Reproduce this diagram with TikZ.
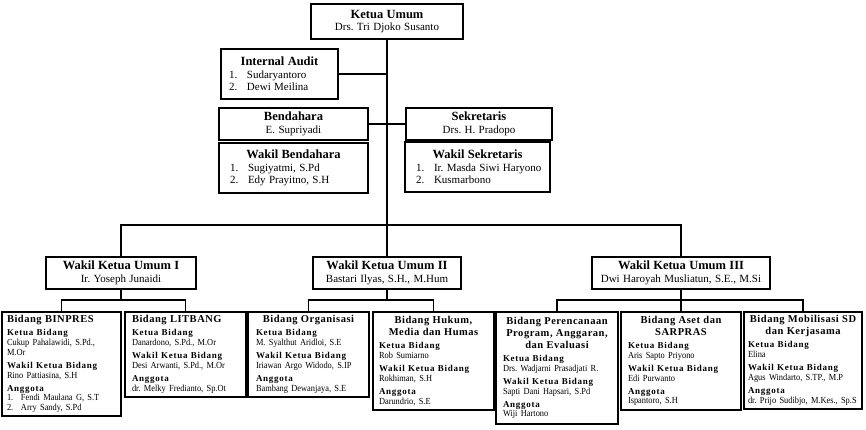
\documentclass[tikz,border=0pt]{standalone}
\usepackage{fontspec}
\setmainfont{Liberation Serif}
\newfontfamily\namefont[FakeStretch=0.9]{Liberation Serif}
\newfontfamily\labfont[LetterSpace=8]{Liberation Serif}
\newfontfamily\titfont[LetterSpace=5]{Liberation Serif}
\newcommand\TopT{\fontsize{12.5}{13}\selectfont\bfseries}
\newcommand\TopN{\fontsize{11}{12.5}\selectfont}
\newcommand\BT{\titfont\bfseries\fontsize{10.5}{12}\selectfont}
\newcommand\BL{\labfont\bfseries\fontsize{9}{13}\selectfont}
\newcommand\BN{\namefont\fontsize{9.3}{9.8}\selectfont}
\newcommand\TT[1]{{\TopT\centering\mbox{#1}\par}}
\newcommand\TN[1]{{\TopN\centering\mbox{#1}\par}}
\newcommand\TI[2]{{\TopN\mbox{\makebox[18pt][l]{#1}#2}\par}}
\newcommand\LT[1]{{\BT\mbox{#1}\par}}
\newcommand\CT[1]{{\BT\centering\mbox{#1}\par}}
\newcommand\LB[1]{{\BL\mbox{#1}\par}}
\newcommand\NM[1]{{\BN\mbox{#1}\par}}
\newcommand\NI[2]{{\BN\mbox{\makebox[14pt][l]{#1}#2}\par}}
\tikzset{
  box/.style={draw=black, line width=1.1pt, inner ysep=0pt, inner xsep=7pt, align=left,
    execute at begin node={\setlength{\parindent}{0pt}\frenchspacing}},
  conn/.style={draw=black, line width=1.1pt}
}
\begin{document}
\frenchspacing
\begin{tikzpicture}[x=1pt,y=-1pt]
\fill[white] (0,0) rectangle (866,429);
\useasboundingbox (0,0) rectangle (866,429);

% top section
\node[box, inner xsep=8pt, text width=136pt, minimum height=35pt] (ketua) at (387,21.5)
  {\TT{Ketua Umum}\TN{Drs. Tri Djoko Susanto}};
\node[box, inner xsep=8pt, text width=101pt, minimum height=50pt] (audit) at (279.5,74)
  {\TT{Internal Audit}\TI{1.}{Sudaryantoro}\TI{2.}{Dewi Meilina}};
\node[box, inner xsep=8pt, text width=133pt, minimum height=32pt] (bendahara) at (293.5,124)
  {\TT{Bendahara}\TN{E. Supriyadi}};
\node[box, inner xsep=11pt, text width=127pt, minimum height=50pt] (wbendahara) at (293.5,168)
  {\TT{Wakil Bendahara}\TI{1.}{Sugiyatmi, S.Pd}\TI{2.}{Edy Prayitno, S.H}};
\node[box, inner xsep=8pt, text width=130pt, minimum height=32pt] (sekretaris) at (479,124)
  {\TT{Sekretaris}\TN{Drs. H. Pradopo}};
\node[box, inner xsep=11pt, text width=123pt, minimum height=50pt] (wsekretaris) at (477.5,167)
  {\TT{Wakil Sekretaris}\TI{1.}{Ir. Masda Siwi Haryono}\TI{2.}{Kusmarbono}};

% wakil ketua umum
\node[box, text width=136pt, minimum height=32pt] (wku1) at (121,273)
  {\TT{Wakil Ketua Umum I}\TN{Ir. Yoseph Junaidi}};
\node[box, text width=134pt, minimum height=32pt] (wku2) at (387,273)
  {\TT{Wakil Ketua Umum II}\TN{Bastari Ilyas, S.H., M.Hum}};
\node[box, text width=164pt, minimum height=32pt] (wku3) at (681,273)
  {\TT{Wakil Ketua Umum III}\TN{Dwi Haroyah Musliatun, S.E., M.Si}};

% bidang boxes
\node[box, inner xsep=5pt, text width=109pt, minimum height=104pt] (binpres) at (61.5,364)
  {\LT{Bidang BINPRES}\LB{Ketua Bidang}\NM{Cukup Pahalawidi, S.Pd.,}\NM{M.Or}%
   \LB{Wakil Ketua Bidang}\NM{Rino Pattiasina, S.H}\LB{Anggota}%
   \NI{1.}{Fendi Maulana G, S.T}\NI{2.}{Arry Sandy, S.Pd}};
\node[box, text width=107pt, minimum height=85pt] (litbang) at (185.5,354.5)
  {\LT{Bidang LITBANG}\LB{Ketua Bidang}\NM{Danardono, S.Pd., M.Or}%
   \LB{Wakil Ketua Bidang}\NM{Desi Arwanti, S.Pd., M.Or}\LB{Anggota}\NM{dr. Melky Fredianto, Sp.Ot}};
\node[box, inner xsep=8pt, text width=105pt, minimum height=85pt] (organisasi) at (308.5,354.5)
  {\CT{Bidang Organisasi}\LB{Ketua Bidang}\NM{M. Syalthut Aridloi, S.E}%
   \LB{Wakil Ketua Bidang}\NM{Iriawan Argo Widodo, S.IP}\LB{Anggota}\NM{Bambang Dewanjaya, S.E}};
\node[box, inner xsep=6pt, text width=109pt, minimum height=98pt] (hukum) at (433.5,361)
  {\CT{Bidang Hukum,}\CT{Media dan Humas}\LB{Ketua Bidang}\NM{Rob Sumiarno}%
   \LB{Wakil Ketua Bidang}\NM{Rokhiman, S.H}\LB{Anggota}\NM{Darundrio, S.E}};
\node[box, text width=108pt, minimum height=112pt] (perencanaan) at (557,368)
  {\CT{Bidang Perencanaan}\CT{Program, Anggaran,}\CT{dan Evaluasi}\LB{Ketua Bidang}%
   \NM{Drs. Wadjarni Prasadjati R.}\LB{Wakil Ketua Bidang}\NM{Sapti Dani Hapsari, S.Pd}%
   \LB{Anggota}\NM{Wiji Hartono}};
\node[box, text width=106pt, minimum height=98pt] (aset) at (681,361)
  {\CT{Bidang Aset dan}\CT{SARPRAS}\LB{Ketua Bidang}\NM{Aris Sapto Priyono}%
   \LB{Wakil Ketua Bidang}\NM{Edi Purwanto}\LB{Anggota}\NM{Ispantoro, S.H}};
\node[box, inner xsep=4pt, text width=110pt, minimum height=97pt] (mobilisasi) at (803,360.5)
  {\CT{Bidang Mobilisasi SD}\CT{dan Kerjasama}\LB{Ketua Bidang}\NM{Elina}%
   \LB{Wakil Ketua Bidang}\NM{Agus Windarto, S.TP., M.P}\LB{Anggota}\NM{dr. Prijo Sudibjo, M.Kes., Sp.S}};

% connectors
\coordinate (hub) at (387,225);
\coordinate (hub1) at (121,300);
\coordinate (hub2) at (387,300);
\coordinate (hub3) at (681,300);
\draw[conn] (ketua.south) -- (wku2.north);
\draw[conn] (audit.east) -- (audit.east -| ketua.south);
\draw[conn] (bendahara.east) -- (sekretaris.west);
\draw[conn] (wku1.north) |- (hub) -| (wku3.north);
\draw[conn] (wku1.south) -- (hub1);
\draw[conn] (binpres.north) |- (hub1) -| (litbang.north);
\draw[conn] (wku2.south) -- (hub2);
\draw[conn] (organisasi.north) |- (hub2) -| (hukum.north);
\draw[conn] (wku3.south) -- (aset.north);
\draw[conn] (perencanaan.north) |- (hub3) -| (mobilisasi.north);
\end{tikzpicture}
\end{document}
